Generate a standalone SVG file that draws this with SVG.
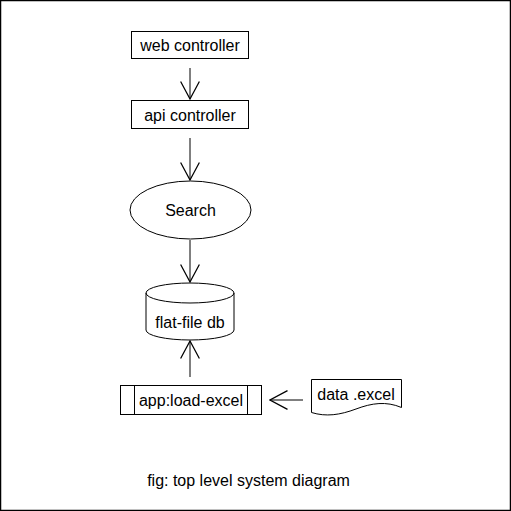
<svg xmlns="http://www.w3.org/2000/svg" width="511" height="511" viewBox="0 0 511 511">
<style>
.s{fill:#fff;stroke:#000;stroke-width:1}
.t{font-family:"Liberation Sans",Arial,sans-serif;font-size:16px;fill:#000;text-anchor:middle;dominant-baseline:central}
.c{fill:none;stroke:#000;stroke-width:1}
</style>
<defs>
<marker id="a" markerUnits="userSpaceOnUse" markerWidth="20" markerHeight="20" viewBox="-15 -8 16 16" refX="0" refY="0" orient="auto">
<path d="M-14,-7.5 L0,0 L-14,7.5" fill="none" stroke="#000" stroke-width="1"/>
</marker>
</defs>
<rect x="0.5" y="0.5" width="510" height="510" fill="#fff" stroke="#000" stroke-width="1.5"/>
<g id="connectors">
<line class="c" x1="190" y1="68" x2="190" y2="99" marker-end="url(#a)"/>
<line class="c" x1="190" y1="138" x2="190" y2="180" marker-end="url(#a)"/>
<line class="c" x1="190" y1="240" x2="190" y2="282" marker-end="url(#a)"/>
<line class="c" x1="190" y1="377" x2="190" y2="341" marker-end="url(#a)"/>
<line class="c" x1="303" y1="400" x2="270" y2="400" marker-end="url(#a)"/>
</g>
<g id="web-controller">
<rect class="s" x="131.5" y="31.5" width="117" height="27"/>
<text class="t" x="190" y="45">web controller</text>
</g>
<g id="api-controller">
<rect class="s" x="131.5" y="100.5" width="117" height="28"/>
<text class="t" x="190" y="115">api controller</text>
</g>
<g id="search">
<ellipse class="s" cx="190.5" cy="210" rx="60.5" ry="29"/>
<text class="t" x="190.5" y="210">Search</text>
</g>
<g id="flat-file-db">
<path class="s" d="M146,293 A44,10 0 0 1 234,293 V330 A44,10 0 0 1 146,330 Z"/>
<path class="c" d="M146,293 A44,10 0 0 0 234,293"/>
<text class="t" x="190" y="322">flat-file db</text>
</g>
<g id="load-excel">
<rect class="s" x="120.5" y="385.5" width="141" height="29"/>
<line class="c" x1="134.5" y1="385.5" x2="134.5" y2="414.5"/>
<line class="c" x1="247.5" y1="385.5" x2="247.5" y2="414.5"/>
<text class="t" x="191" y="400">app:load-excel</text>
</g>
<g id="data-excel">
<path class="s" d="M311.5,379.5 H401.5 V407.5 C386,401 372,403 356,409 C340,415 326,417 311.5,412.5 Z"/>
<text class="t" x="356" y="394">data .excel</text>
</g>
<text class="t" x="248.5" y="480">fig: top level system diagram</text>
</svg>
